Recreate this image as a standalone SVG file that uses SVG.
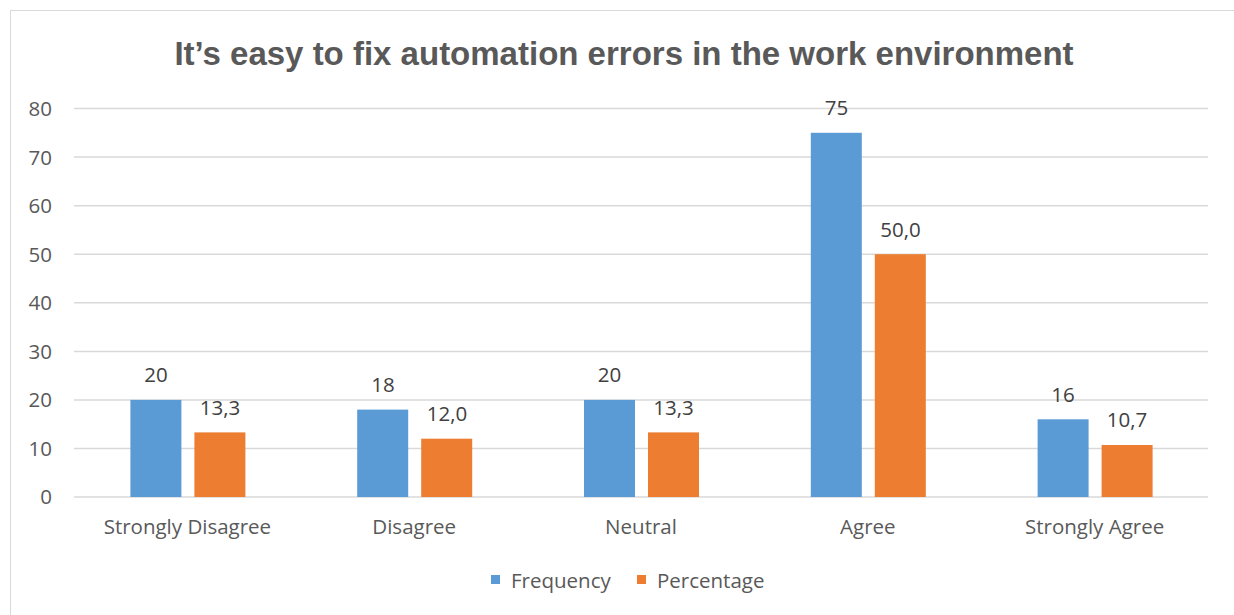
<svg xmlns="http://www.w3.org/2000/svg" width="1234" height="615" viewBox="0 0 1234 615">
<style>
.grid{stroke:#d9d9d9;stroke-width:1.5}
.ax{font-family:"Open Sans","Liberation Sans",sans-serif;font-size:20.5px;fill:#595959}
.val{font-family:"Open Sans","Liberation Sans",sans-serif;font-size:20.5px;fill:#404040;text-anchor:middle}
.freq{fill:#5b9bd5}
.pct{fill:#ed7d31}
</style>
<rect x="0" y="0" width="1234" height="615" fill="#fff"/>
<rect x="10.5" y="10.5" width="1240" height="620" fill="#fff" stroke="#d9d9d9" stroke-width="1"/>
<text x="624" y="65" text-anchor="middle" font-family="Liberation Sans,Arial,sans-serif" font-weight="bold" font-size="33" fill="#595959">It’s easy to fix automation errors in the work environment</text>
<g id="gridlines">
<line class="grid" x1="74" y1="108.5" x2="1208" y2="108.5"/>
<line class="grid" x1="74" y1="157.1" x2="1208" y2="157.1"/>
<line class="grid" x1="74" y1="205.7" x2="1208" y2="205.7"/>
<line class="grid" x1="74" y1="254.2" x2="1208" y2="254.2"/>
<line class="grid" x1="74" y1="302.8" x2="1208" y2="302.8"/>
<line class="grid" x1="74" y1="351.4" x2="1208" y2="351.4"/>
<line class="grid" x1="74" y1="400" x2="1208" y2="400"/>
<line class="grid" x1="74" y1="448.5" x2="1208" y2="448.5"/>
<line class="grid" x1="74" y1="497" x2="1208" y2="497"/>
</g>
<g id="yaxis" class="ax" text-anchor="end">
<text x="52" y="116">80</text>
<text x="52" y="164.5">70</text>
<text x="52" y="213">60</text>
<text x="52" y="261.5">50</text>
<text x="52" y="310">40</text>
<text x="52" y="358.5">30</text>
<text x="52" y="407">20</text>
<text x="52" y="455.5">10</text>
<text x="52" y="504">0</text>
</g>
<g id="cat-strongly-disagree">
<rect class="freq" x="130.4" y="399.9" width="51" height="97.1"/>
<rect class="pct" x="194.4" y="432.4" width="51" height="64.6"/>
<text class="val" x="156" y="382">20</text>
<text class="val" x="220" y="415">13,3</text>
<text class="ax" x="187.4" y="534" text-anchor="middle">Strongly Disagree</text>
</g>
<g id="cat-disagree">
<rect class="freq" x="357.2" y="409.6" width="51" height="87.4"/>
<rect class="pct" x="421.2" y="438.7" width="51" height="58.3"/>
<text class="val" x="383" y="392">18</text>
<text class="val" x="447" y="421">12,0</text>
<text class="ax" x="414.2" y="534" text-anchor="middle">Disagree</text>
</g>
<g id="cat-neutral">
<rect class="freq" x="584" y="399.9" width="51" height="97.1"/>
<rect class="pct" x="648" y="432.4" width="51" height="64.6"/>
<text class="val" x="609.5" y="382">20</text>
<text class="val" x="673.5" y="415">13,3</text>
<text class="ax" x="641" y="534" text-anchor="middle">Neutral</text>
</g>
<g id="cat-agree">
<rect class="freq" x="810.8" y="132.8" width="51" height="364.2"/>
<rect class="pct" x="874.8" y="254.2" width="51" height="242.8"/>
<text class="val" x="836.5" y="115">75</text>
<text class="val" x="900.5" y="237">50,0</text>
<text class="ax" x="867.8" y="534" text-anchor="middle">Agree</text>
</g>
<g id="cat-strongly-agree">
<rect class="freq" x="1037.6" y="419.3" width="51" height="77.7"/>
<rect class="pct" x="1101.6" y="445" width="51" height="52"/>
<text class="val" x="1063" y="402">16</text>
<text class="val" x="1127" y="427">10,7</text>
<text class="ax" x="1094.6" y="534" text-anchor="middle">Strongly Agree</text>
</g>
<g id="legend">
<rect class="freq" x="491" y="575" width="9" height="9"/>
<text class="ax" x="511" y="588">Frequency</text>
<rect class="pct" x="637" y="575" width="9" height="9"/>
<text class="ax" x="657" y="588">Percentage</text>
</g>
</svg>
